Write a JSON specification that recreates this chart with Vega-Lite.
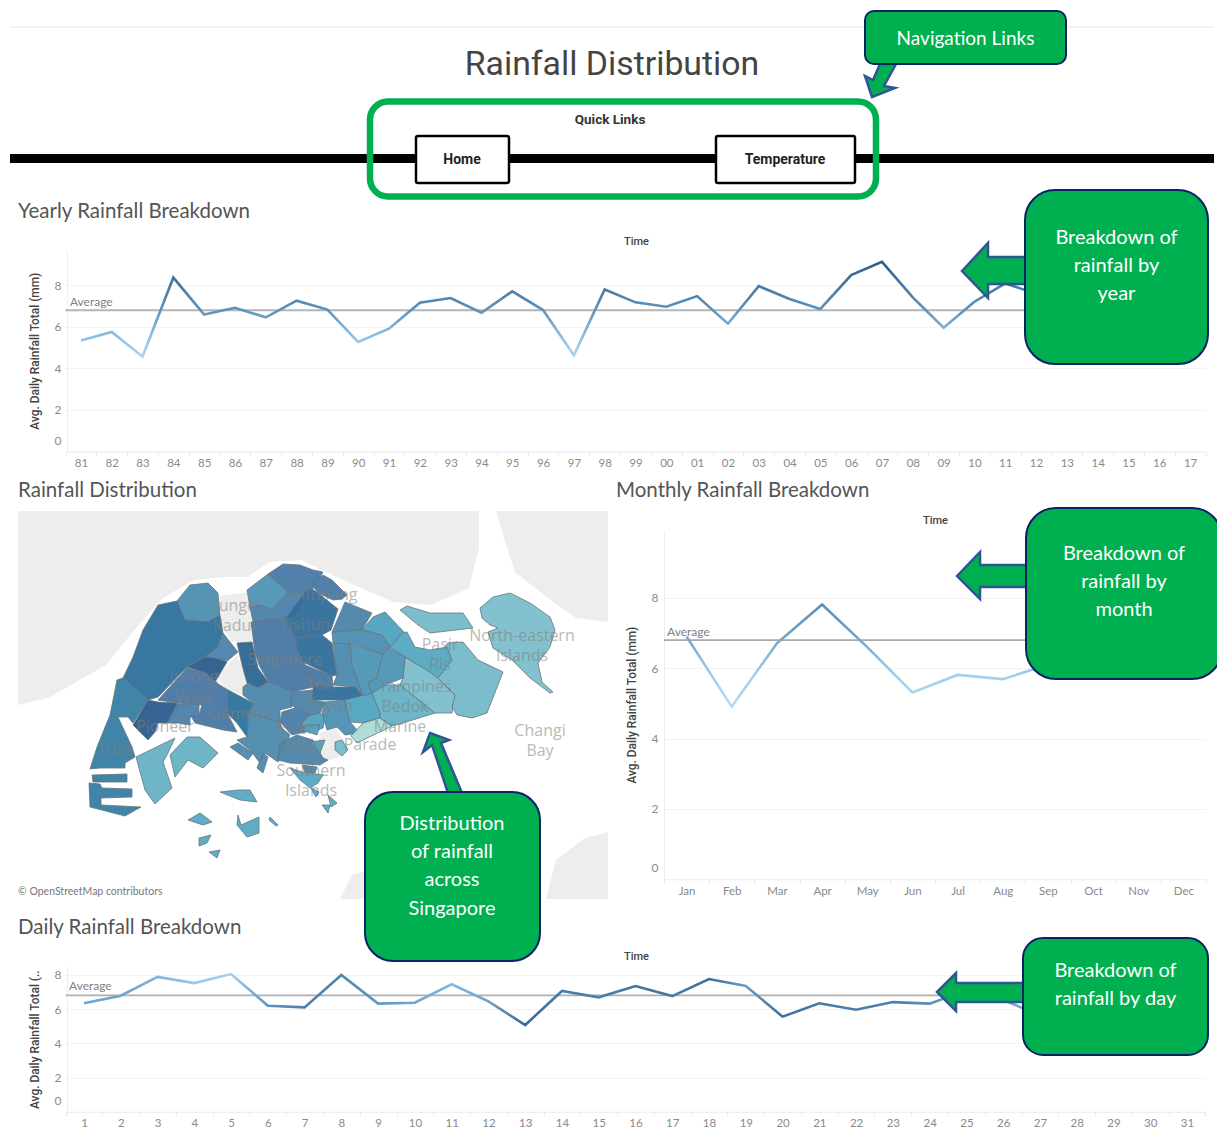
{"$schema":"https://vega.github.io/schema/vega-lite/v6.json","width":1217,"height":1131,"padding":0,"autosize":{"type":"none"},"background":"white","config":{"view":{"stroke":null}},"resolve":{"scale":{"x":"independent","y":"independent","color":"independent"},"axis":{"x":"independent","y":"independent"}},
"datasets":{
"yearly":[{"y":"81","v":5.34},{"y":"82","v":5.75},{"y":"83","v":4.57},{"y":"84","v":8.37},{"y":"85","v":6.59},{"y":"86","v":6.92},{"y":"87","v":6.46},{"y":"88","v":7.26},{"y":"89","v":6.83},{"y":"90","v":5.27},{"y":"91","v":5.91},{"y":"92","v":7.16},{"y":"93","v":7.39},{"y":"94","v":6.68},{"y":"95","v":7.71},{"y":"96","v":6.81},{"y":"97","v":4.63},{"y":"98","v":7.8},{"y":"99","v":7.18},{"y":"00","v":6.97},{"y":"01","v":7.48},{"y":"02","v":6.15},{"y":"03","v":7.96},{"y":"04","v":7.34},{"y":"05","v":6.86},{"y":"06","v":8.49},{"y":"07","v":9.13},{"y":"08","v":7.42},{"y":"09","v":5.96},{"y":"10","v":7.21},{"y":"11","v":8.09},{"y":"12","v":7.6},{"y":"13","v":7.9},{"y":"14","v":5.5},{"y":"15","v":5.0},{"y":"16","v":6.3},{"y":"17","v":6.9}],
"monthly":[{"m":"Jan","v":6.9},{"m":"Feb","v":4.91},{"m":"Mar","v":6.71},{"m":"Apr","v":7.81},{"m":"May","v":6.6},{"m":"Jun","v":5.31},{"m":"Jul","v":5.81},{"m":"Aug","v":5.69},{"m":"Sep","v":6.1},{"m":"Oct","v":6.6},{"m":"Nov","v":8.0},{"m":"Dec","v":8.6}],
"daily":[{"d":"1","v":6.34},{"d":"2","v":6.78},{"d":"3","v":7.88},{"d":"4","v":7.52},{"d":"5","v":8.05},{"d":"6","v":6.2},{"d":"7","v":6.1},{"d":"8","v":8.0},{"d":"9","v":6.32},{"d":"10","v":6.37},{"d":"11","v":7.45},{"d":"12","v":6.45},{"d":"13","v":5.07},{"d":"14","v":7.06},{"d":"15","v":6.69},{"d":"16","v":7.35},{"d":"17","v":6.76},{"d":"18","v":7.76},{"d":"19","v":7.35},{"d":"20","v":5.56},{"d":"21","v":6.34},{"d":"22","v":5.96},{"d":"23","v":6.41},{"d":"24","v":6.32},{"d":"25","v":7.1},{"d":"26","v":6.53},{"d":"27","v":5.65},{"d":"28","v":6.5},{"d":"29","v":7.0},{"d":"30","v":6.6},{"d":"31","v":7.3}],
"average":[{"label":"Average","avg":6.8}],
"land":[
{"type":"Feature","properties":{"n":"Johor"},"geometry":{"type":"Polygon","coordinates":[[[18,511],[479,511],[479,548],[469,588],[431,605],[393,602],[354,585],[301,560],[270,562],[247,577],[224,577],[194,580],[163,598],[136,628],[106,665],[48,698],[18,705],[18,511]]]}},
{"type":"Feature","properties":{"n":"Johor east"},"geometry":{"type":"Polygon","coordinates":[[[496,511],[608,511],[608,622],[576,618],[553,602],[515,572],[504,538],[496,511]]]}},
{"type":"Feature","properties":{"n":"Batam"},"geometry":{"type":"Polygon","coordinates":[[[546,899],[556,860],[585,838],[608,832],[608,899],[546,899]]]}},
{"type":"Feature","properties":{"n":"Bintan"},"geometry":{"type":"Polygon","coordinates":[[[340,899],[352,875],[380,866],[393,880],[385,899],[340,899]]]}},
{"type":"Feature","properties":{"n":"Kadut"},"geometry":{"type":"Polygon","coordinates":[[[220,596],[250,592],[252,642],[232,642],[222,625],[220,596]]]}},
{"type":"Feature","properties":{"n":"Nature reserve"},"geometry":{"type":"Polygon","coordinates":[[[217,677],[237,655],[248,683],[243,695],[227,690],[217,677]]]}},
{"type":"Feature","properties":{"n":"Downtown"},"geometry":{"type":"Polygon","coordinates":[[[320,733],[335,728],[347,745],[338,758],[322,762],[318,748],[320,733]]]}}
],
"regions":[
{"type":"Feature","properties":{"r":6.75},"geometry":{"type":"Polygon","coordinates":[[[177,601],[190,585],[208,583],[218,593],[220,615],[208,622],[185,620],[177,601]]]}},
{"type":"Feature","properties":{"r":7.45},"geometry":{"type":"Polygon","coordinates":[[[123,678],[133,657],[143,630],[158,605],[177,601],[185,620],[208,622],[220,615],[223,633],[217,648],[205,657],[187,667],[158,697],[148,700],[123,678]]]}},
{"type":"Feature","properties":{"r":6.97},"geometry":{"type":"Polygon","coordinates":[[[223,633],[238,652],[226,662],[205,657],[217,648],[223,633]]]}},
{"type":"Feature","properties":{"r":8.0},"geometry":{"type":"Polygon","coordinates":[[[187,667],[205,657],[215,658],[227,662],[215,682],[205,673],[187,667]]]}},
{"type":"Feature","properties":{"r":7.25},"geometry":{"type":"Polygon","coordinates":[[[117,680],[123,678],[148,700],[133,723],[128,717],[118,717],[110,715],[117,680]]]}},
{"type":"Feature","properties":{"r":7.25},"geometry":{"type":"Polygon","coordinates":[[[110,715],[118,717],[132,747],[135,757],[125,763],[125,768],[100,768],[90,769],[97,747],[110,715]]]}},
{"type":"Feature","properties":{"r":7.25},"geometry":{"type":"Polygon","coordinates":[[[92,775],[127,774],[127,782],[93,782],[92,775]]]}},
{"type":"Feature","properties":{"r":7.25},"geometry":{"type":"Polygon","coordinates":[[[89,783],[100,784],[102,788],[132,789],[132,797],[101,798],[101,805],[141,807],[125,816],[90,807],[89,783]]]}},
{"type":"Feature","properties":{"r":8.0},"geometry":{"type":"Polygon","coordinates":[[[148,700],[158,702],[177,703],[177,714],[167,723],[158,723],[155,732],[148,740],[133,725],[148,700]]]}},
{"type":"Feature","properties":{"r":7.15},"geometry":{"type":"Polygon","coordinates":[[[158,700],[187,668],[205,673],[215,682],[205,687],[202,705],[177,703],[158,700]]]}},
{"type":"Feature","properties":{"r":7.0},"geometry":{"type":"Polygon","coordinates":[[[177,704],[199,704],[199,715],[190,717],[190,725],[178,723],[167,723],[177,704]]]}},
{"type":"Feature","properties":{"r":7.15},"geometry":{"type":"Polygon","coordinates":[[[205,687],[215,682],[228,690],[227,713],[237,732],[223,730],[195,723],[191,716],[199,715],[202,705],[205,687]]]}},
{"type":"Feature","properties":{"r":7.35},"geometry":{"type":"Polygon","coordinates":[[[228,690],[253,703],[247,737],[237,723],[227,713],[228,690]]]}},
{"type":"Feature","properties":{"r":6.65},"geometry":{"type":"Polygon","coordinates":[[[247,590],[268,574],[288,592],[272,610],[260,605],[250,607],[247,590]]]}},
{"type":"Feature","properties":{"r":7.1},"geometry":{"type":"Polygon","coordinates":[[[268,574],[283,564],[300,565],[313,570],[323,572],[312,590],[293,593],[288,592],[268,574]]]}},
{"type":"Feature","properties":{"r":7.1},"geometry":{"type":"Polygon","coordinates":[[[310,583],[323,575],[332,580],[347,595],[342,599],[333,600],[318,593],[310,583]]]}},
{"type":"Feature","properties":{"r":7.0},"geometry":{"type":"Polygon","coordinates":[[[250,607],[260,605],[272,610],[288,592],[293,593],[312,590],[293,618],[283,618],[253,622],[250,607]]]}},
{"type":"Feature","properties":{"r":7.55},"geometry":{"type":"Polygon","coordinates":[[[285,619],[305,592],[312,589],[318,593],[338,609],[331,630],[322,635],[295,638],[285,619]]]}},
{"type":"Feature","properties":{"r":7.15},"geometry":{"type":"Polygon","coordinates":[[[251,622],[285,618],[295,638],[297,650],[305,657],[305,665],[313,687],[293,692],[269,683],[260,667],[255,653],[251,622]]]}},
{"type":"Feature","properties":{"r":7.55},"geometry":{"type":"Polygon","coordinates":[[[295,638],[322,635],[332,643],[337,675],[332,676],[305,663],[297,650],[295,638]]]}},
{"type":"Feature","properties":{"r":7.15},"geometry":{"type":"Polygon","coordinates":[[[305,665],[332,676],[333,687],[313,687],[305,665]]]}},
{"type":"Feature","properties":{"r":7.75},"geometry":{"type":"Polygon","coordinates":[[[237,643],[252,642],[258,668],[268,682],[258,688],[247,683],[242,665],[237,643]]]}},
{"type":"Feature","properties":{"r":6.9},"geometry":{"type":"Polygon","coordinates":[[[243,687],[248,683],[258,688],[268,682],[280,685],[293,693],[292,707],[280,710],[280,722],[248,713],[253,703],[243,695],[243,687]]]}},
{"type":"Feature","properties":{"r":6.85},"geometry":{"type":"Polygon","coordinates":[[[248,713],[280,722],[282,728],[290,735],[278,762],[265,753],[260,763],[250,750],[237,740],[247,737],[248,713]]]}},
{"type":"Feature","properties":{"r":6.85},"geometry":{"type":"Polygon","coordinates":[[[230,747],[238,743],[253,753],[248,760],[230,747]]]}},
{"type":"Feature","properties":{"r":6.85},"geometry":{"type":"Polygon","coordinates":[[[263,753],[268,757],[263,773],[257,768],[263,753]]]}},
{"type":"Feature","properties":{"r":6.95},"geometry":{"type":"Polygon","coordinates":[[[278,760],[280,743],[297,735],[313,740],[323,758],[328,760],[320,765],[290,763],[278,760]]]}},
{"type":"Feature","properties":{"r":7.05},"geometry":{"type":"Polygon","coordinates":[[[282,712],[295,708],[310,715],[302,723],[305,732],[292,735],[280,722],[282,712]]]}},
{"type":"Feature","properties":{"r":6.98},"geometry":{"type":"Polygon","coordinates":[[[293,692],[313,690],[313,700],[325,702],[320,713],[310,715],[295,708],[290,703],[293,692]]]}},
{"type":"Feature","properties":{"r":7.5},"geometry":{"type":"Polygon","coordinates":[[[313,687],[333,687],[355,687],[363,696],[345,700],[313,700],[313,687]]]}},
{"type":"Feature","properties":{"r":6.45},"geometry":{"type":"Polygon","coordinates":[[[302,723],[310,715],[320,713],[325,717],[323,728],[318,730],[305,732],[302,723]]]}},
{"type":"Feature","properties":{"r":6.7},"geometry":{"type":"Polygon","coordinates":[[[325,702],[345,700],[350,722],[360,733],[345,735],[337,727],[327,730],[322,713],[325,702]]]}},
{"type":"Feature","properties":{"r":6.35},"geometry":{"type":"Polygon","coordinates":[[[345,700],[372,693],[380,713],[380,718],[363,723],[350,722],[345,700]]]}},
{"type":"Feature","properties":{"r":5.0},"geometry":{"type":"Polygon","coordinates":[[[351,736],[363,723],[380,718],[392,726],[357,743],[351,736]]]}},
{"type":"Feature","properties":{"r":6.05},"geometry":{"type":"Polygon","coordinates":[[[372,693],[385,685],[400,685],[435,713],[403,723],[392,726],[380,718],[380,713],[372,693]]]}},
{"type":"Feature","properties":{"r":5.75},"geometry":{"type":"Polygon","coordinates":[[[405,657],[430,672],[455,695],[452,713],[435,713],[400,685],[403,678],[405,657]]]}},
{"type":"Feature","properties":{"r":5.85},"geometry":{"type":"Polygon","coordinates":[[[448,643],[463,642],[478,660],[503,672],[487,713],[472,718],[457,715],[452,707],[455,695],[438,678],[450,660],[445,647],[448,643]]]}},
{"type":"Feature","properties":{"r":6.3},"geometry":{"type":"Polygon","coordinates":[[[390,647],[400,633],[407,632],[415,647],[430,650],[447,647],[452,660],[438,678],[430,672],[405,657],[390,647]]]}},
{"type":"Feature","properties":{"r":6.95},"geometry":{"type":"Polygon","coordinates":[[[332,632],[345,602],[372,613],[362,630],[332,632]]]}},
{"type":"Feature","properties":{"r":6.4},"geometry":{"type":"Polygon","coordinates":[[[362,630],[373,617],[385,612],[404,632],[390,647],[382,635],[362,630]]]}},
{"type":"Feature","properties":{"r":6.75},"geometry":{"type":"Polygon","coordinates":[[[332,632],[362,630],[382,635],[390,647],[383,654],[353,644],[333,643],[332,632]]]}},
{"type":"Feature","properties":{"r":6.85},"geometry":{"type":"Polygon","coordinates":[[[333,643],[350,644],[352,665],[363,695],[355,687],[333,685],[337,675],[333,643]]]}},
{"type":"Feature","properties":{"r":6.65},"geometry":{"type":"Polygon","coordinates":[[[350,644],[383,654],[377,678],[368,683],[372,693],[363,696],[352,665],[350,644]]]}},
{"type":"Feature","properties":{"r":6.65},"geometry":{"type":"Polygon","coordinates":[[[383,653],[390,648],[405,657],[403,678],[385,685],[372,693],[368,683],[377,678],[383,653]]]}},
{"type":"Feature","properties":{"r":5.85},"geometry":{"type":"Polygon","coordinates":[[[335,742],[342,740],[348,750],[342,756],[335,750],[335,742]]]}},
{"type":"Feature","properties":{"r":6.45},"geometry":{"type":"Polygon","coordinates":[[[310,742],[325,740],[320,753],[310,742]]]}},
{"type":"Feature","properties":{"r":6.45},"geometry":{"type":"Polygon","coordinates":[[[305,725],[320,725],[317,735],[302,730],[305,725]]]}},
{"type":"Feature","properties":{"r":5.85},"geometry":{"type":"Polygon","coordinates":[[[400,610],[407,606],[430,613],[463,613],[473,628],[430,633],[418,625],[400,610]]]}},
{"type":"Feature","properties":{"r":5.75},"geometry":{"type":"Polygon","coordinates":[[[480,608],[493,597],[510,593],[530,603],[550,617],[555,630],[550,647],[538,663],[542,682],[553,692],[550,693],[530,678],[512,660],[493,648],[488,632],[498,628],[490,625],[482,618],[480,608]]]}},
{"type":"Feature","properties":{"r":6.05},"geometry":{"type":"Polygon","coordinates":[[[136,757],[175,738],[168,753],[163,762],[172,788],[155,804],[145,790],[136,757]]]}},
{"type":"Feature","properties":{"r":6.05},"geometry":{"type":"Polygon","coordinates":[[[170,755],[187,737],[200,737],[218,753],[203,768],[188,760],[175,777],[170,755]]]}},
{"type":"Feature","properties":{"r":6.3},"geometry":{"type":"Polygon","coordinates":[[[290,768],[302,772],[323,775],[318,783],[310,788],[300,780],[290,768]]]}},
{"type":"Feature","properties":{"r":6.95},"geometry":{"type":"Polygon","coordinates":[[[302,765],[317,767],[315,773],[305,772],[302,765]]]}},
{"type":"Feature","properties":{"r":6.25},"geometry":{"type":"Polygon","coordinates":[[[220,792],[238,790],[250,790],[257,802],[240,800],[220,792]]]}},
{"type":"Feature","properties":{"r":6.25},"geometry":{"type":"Polygon","coordinates":[[[188,820],[200,813],[212,822],[203,825],[188,820]]]}},
{"type":"Feature","properties":{"r":6.25},"geometry":{"type":"Polygon","coordinates":[[[238,815],[241,825],[259,817],[259,833],[247,837],[237,825],[238,815]]]}},
{"type":"Feature","properties":{"r":6.25},"geometry":{"type":"Polygon","coordinates":[[[270,817],[278,825],[276,826],[269,820],[270,817]]]}},
{"type":"Feature","properties":{"r":6.25},"geometry":{"type":"Polygon","coordinates":[[[199,838],[211,835],[207,843],[199,846],[199,838]]]}},
{"type":"Feature","properties":{"r":6.25},"geometry":{"type":"Polygon","coordinates":[[[209,852],[220,850],[217,858],[209,852]]]}},
{"type":"Feature","properties":{"r":6.25},"geometry":{"type":"Polygon","coordinates":[[[322,805],[330,805],[328,813],[322,805]]]}},
{"type":"Feature","properties":{"r":6.25},"geometry":{"type":"Polygon","coordinates":[[[328,795],[337,803],[331,807],[328,795]]]}},
{"type":"Feature","properties":{"r":6.25},"geometry":{"type":"Polygon","coordinates":[[[311,788],[319,792],[316,797],[311,788]]]}}
],
"places":[{"t":"Sungei","x":235,"y":606},{"t":"Kadut","x":235,"y":626},{"t":"Simpang","x":325,"y":595},{"t":"Yishun","x":305,"y":625},{"t":"Jurong","x":194,"y":677},{"t":"West","x":194,"y":698},{"t":"Singapore","x":285,"y":660},{"t":"Pioneer","x":165,"y":727},{"t":"Clementi","x":240,"y":714},{"t":"River","x":295,"y":729},{"t":"Valley","x":300,"y":746},{"t":"Payoh","x":330,"y":707},{"t":"Toa","x":320,"y":685},{"t":"Marine","x":400,"y":727},{"t":"Parade","x":370,"y":745},{"t":"Bedok","x":405,"y":707},{"t":"Tampines","x":415,"y":687},{"t":"Pasir","x":440,"y":645},{"t":"Ris","x":440,"y":665},{"t":"North-eastern","x":522,"y":636},{"t":"Islands","x":522,"y":656},{"t":"Changi","x":540,"y":731},{"t":"Bay","x":540,"y":751},{"t":"Southern","x":311,"y":771},{"t":"Islands","x":311,"y":791},{"t":"Tuas","x":115,"y":750}],
"arrows":[
{"type":"Feature","properties":{"n":"nav"},"geometry":{"type":"Polygon","coordinates":[[[880,64],[896,64],[884,86],[895,88],[872,97],[865,76],[873,80],[880,64]]]}},
{"type":"Feature","properties":{"n":"year"},"geometry":{"type":"Polygon","coordinates":[[[962,271],[988,243],[988,257],[1026,257],[1026,284],[988,284],[988,298],[962,271]]]}},
{"type":"Feature","properties":{"n":"month"},"geometry":{"type":"Polygon","coordinates":[[[957,576],[980,552],[980,565],[1027,565],[1027,587],[980,587],[980,599],[957,576]]]}},
{"type":"Feature","properties":{"n":"day"},"geometry":{"type":"Polygon","coordinates":[[[937,992],[956,973],[956,983],[1024,983],[1024,1002],[956,1002],[956,1011],[937,992]]]}},
{"type":"Feature","properties":{"n":"map"},"geometry":{"type":"Polygon","coordinates":[[[430,733],[449,740],[441,743],[462,793],[448,793],[432,745],[423,752],[430,733]]]}}
]
},
"layer":[
{"data":{"values":[{"item":"top line"}]},"mark":{"type":"rule","color":"#e6e6e6","strokeWidth":1},"encoding":{"x":{"datum":"start","scale":{"type":"point","domain":["start","end"],"range":[10,1214],"padding":0},"axis":null},"x2":{"datum":"end"},"y":{"field":"item","type":"nominal","scale":{"type":"point","range":[27,27]},"axis":null}}},
{"data":{"values":[{"item":"header bar"}]},"mark":{"type":"rule","color":"black","strokeWidth":9},"encoding":{"x":{"datum":"start","scale":{"type":"point","domain":["start","end"],"range":[10,1214],"padding":0},"axis":null},"x2":{"datum":"end"},"y":{"field":"item","type":"nominal","scale":{"type":"point","range":[158.5,158.5]},"axis":null}}},
{"data":{"values":[{"item":"Rainfall Distribution"}]},"mark":{"type":"text","font":"Roboto","fontSize":33.8,"color":"#444444","align":"center","baseline":"middle"},"encoding":{"text":{"field":"item"},"x":{"field":"item","type":"nominal","scale":{"type":"point","range":[612,612]},"axis":null},"y":{"field":"item","type":"nominal","scale":{"type":"point","range":[64.5,64.5]},"axis":null}}},
{"data":{"values":[{"item":"links frame"}]},"mark":{"type":"rect","width":506,"height":95,"cornerRadius":18,"fill":null,"fillOpacity":0,"stroke":"#00b050","strokeWidth":6.5},"encoding":{"x":{"field":"item","type":"nominal","scale":{"type":"point","range":[623,623]},"axis":null},"y":{"field":"item","type":"nominal","scale":{"type":"point","range":[149,149]},"axis":null}}},
{"data":{"values":[{"item":"Quick Links"}]},"mark":{"type":"text","font":"Roboto","fontWeight":"bold","fontSize":13.5,"color":"#333333","align":"center","baseline":"middle"},"encoding":{"text":{"field":"item"},"x":{"field":"item","type":"nominal","scale":{"type":"point","range":[610,610]},"axis":null},"y":{"field":"item","type":"nominal","scale":{"type":"point","range":[120,120]},"axis":null}}},
{"data":{"values":[{"item":"Home box"}]},"mark":{"type":"rect","width":93,"height":47,"cornerRadius":2,"fill":"white","stroke":"black","strokeWidth":2.5},"encoding":{"x":{"field":"item","type":"nominal","scale":{"type":"point","range":[462.5,462.5]},"axis":null},"y":{"field":"item","type":"nominal","scale":{"type":"point","range":[159.5,159.5]},"axis":null}}},
{"data":{"values":[{"item":"Temperature box"}]},"mark":{"type":"rect","width":139,"height":47,"cornerRadius":2,"fill":"white","stroke":"black","strokeWidth":2.5},"encoding":{"x":{"field":"item","type":"nominal","scale":{"type":"point","range":[785.5,785.5]},"axis":null},"y":{"field":"item","type":"nominal","scale":{"type":"point","range":[159.5,159.5]},"axis":null}}},
{"data":{"values":[{"item":"Home"}]},"mark":{"type":"text","font":"Roboto","fontWeight":"bold","fontSize":14,"color":"#222222","align":"center","baseline":"middle"},"encoding":{"text":{"field":"item"},"x":{"field":"item","type":"nominal","scale":{"type":"point","range":[462,462]},"axis":null},"y":{"field":"item","type":"nominal","scale":{"type":"point","range":[159.5,159.5]},"axis":null}}},
{"data":{"values":[{"item":"Temperature"}]},"mark":{"type":"text","font":"Roboto","fontWeight":"bold","fontSize":14,"color":"#222222","align":"center","baseline":"middle"},"encoding":{"text":{"field":"item"},"x":{"field":"item","type":"nominal","scale":{"type":"point","range":[785,785]},"axis":null},"y":{"field":"item","type":"nominal","scale":{"type":"point","range":[159.5,159.5]},"axis":null}}},
{"data":{"values":[{"item":"Yearly Rainfall Breakdown"}]},"mark":{"type":"text","font":"Lato","fontSize":20.5,"color":"#555555","align":"left","baseline":"middle"},"encoding":{"text":{"field":"item"},"x":{"field":"item","type":"nominal","scale":{"type":"point","range":[18,18]},"axis":null},"y":{"field":"item","type":"nominal","scale":{"type":"point","range":[212,212]},"axis":null}}},
{"data":{"values":[{"item":"Rainfall Distribution"}]},"mark":{"type":"text","font":"Lato","fontSize":20.5,"color":"#555555","align":"left","baseline":"middle"},"encoding":{"text":{"field":"item"},"x":{"field":"item","type":"nominal","scale":{"type":"point","range":[18,18]},"axis":null},"y":{"field":"item","type":"nominal","scale":{"type":"point","range":[491,491]},"axis":null}}},
{"data":{"values":[{"item":"Monthly Rainfall Breakdown"}]},"mark":{"type":"text","font":"Lato","fontSize":20.5,"color":"#555555","align":"left","baseline":"middle"},"encoding":{"text":{"field":"item"},"x":{"field":"item","type":"nominal","scale":{"type":"point","range":[616,616]},"axis":null},"y":{"field":"item","type":"nominal","scale":{"type":"point","range":[491,491]},"axis":null}}},
{"data":{"values":[{"item":"Daily Rainfall Breakdown"}]},"mark":{"type":"text","font":"Lato","fontSize":20.5,"color":"#555555","align":"left","baseline":"middle"},"encoding":{"text":{"field":"item"},"x":{"field":"item","type":"nominal","scale":{"type":"point","range":[18,18]},"axis":null},"y":{"field":"item","type":"nominal","scale":{"type":"point","range":[928,928]},"axis":null}}},
{"layer":[
{"mark":{"type":"rule","color":"#b5b5b5","strokeWidth":2,"xOffset":-15.4,"x2Offset":15.4},"data":{"name":"average"},"encoding":{"x":{"datum":"81","type":"ordinal","scale":{"type":"band","domain":["81","82","83","84","85","86","87","88","89","90","91","92","93","94","95","96","97","98","99","00","01","02","03","04","05","06","07","08","09","10","11","12","13","14","15","16","17"],"range":[65.5,1205.5],"paddingInner":0,"paddingOuter":0},"axis":{"title":"Time","titleX":636,"titleY":-210,"orient":"bottom","offset":-679.5,"labelAngle":0,"labelFont":"Lato","labelFontSize":11.5,"labelColor":"#8a8a8a","tickBand":"extent","tickColor":"#e8e8e8","tickSize":4,"domainColor":"#eeeeee","labelPadding":2,"grid":false,"titleFont":"Roboto","titleFontSize":11,"titleFontWeight":500,"titleColor":"#444444","titleBaseline":"middle"}},"x2":{"datum":"17"},"y":{"field":"avg","type":"quantitative","scale":{"domain":[0,9.7],"range":[451.5,250],"nice":false},"axis":{"title":"Avg. Daily Rainfall Total (mm)","orient":"left","offset":-67,"values":[0,2,4,6,8],"format":"d","grid":true,"gridColor":"#f3f3f3","domainColor":"#eeeeee","ticks":false,"labelFlush":true,"labelFlushOffset":-4.5,"labelPadding":6,"labelFont":"Lato","labelFontSize":12,"labelColor":"#8a8a8a","titleFont":"Roboto","titleFontSize":11.9,"titleFontWeight":500,"titleColor":"#444444","titlePadding":14}}}},
{"mark":{"type":"line","strokeWidth":2.6,"stroke":{"gradient":"linear","x1":0,"y1":0,"x2":0,"y2":1,"stops":[{"offset":0,"color":"#2d5c87"},{"offset":0.16,"color":"#3c6f9e"},{"offset":0.36,"color":"#4f83ad"},{"offset":0.51,"color":"#5c93bd"},{"offset":0.69,"color":"#7bb1d6"},{"offset":0.84,"color":"#94c6e6"},{"offset":1,"color":"#acd6f0"}]}},"data":{"name":"yearly"},"encoding":{"x":{"field":"y","type":"ordinal"},"y":{"field":"v","type":"quantitative"}}},
{"mark":{"type":"text","font":"Lato","fontSize":12,"color":"#808080","align":"left","baseline":"middle","dx":-11,"dy":-8.5},"data":{"name":"average"},"encoding":{"text":{"field":"label"},"x":{"datum":"81","type":"ordinal"},"y":{"field":"avg","type":"quantitative"}}}
]},
{"data":{"name":"land"},"mark":{"type":"geoshape","fill":"#ecedec","stroke":null},"projection":{"type":"identity","scale":1,"translate":[0,0]}},
{"data":{"name":"regions"},"mark":{"type":"geoshape","stroke":"#64757f","strokeWidth":0.8,"fillOpacity":0.97},"projection":{"type":"identity","scale":1,"translate":[0,0]},"encoding":{"color":{"field":"properties.r","type":"quantitative","legend":null,"scale":{"domain":[5,5.75,6.35,6.95,7.15,7.25,7.35,7.55,8],"range":["#acdcd4","#7fbfcc","#55a6c1","#4f86ab","#4a7aa5","#3a80a5","#2f769f","#356f9b","#2f5f8e"]}}}},
{"data":{"name":"places"},"mark":{"type":"text","font":"Open Sans","fontSize":16,"color":"#808080","opacity":0.55,"align":"center","baseline":"middle"},"projection":{"type":"identity","scale":1,"translate":[0,0]},"encoding":{"longitude":{"field":"x","type":"quantitative"},"latitude":{"field":"y","type":"quantitative"},"text":{"field":"t"}}},
{"data":{"values":[{"item":"© OpenStreetMap contributors"}]},"mark":{"type":"text","font":"Lato","fontSize":10.5,"color":"#777777","align":"left","baseline":"middle"},"encoding":{"text":{"field":"item"},"x":{"field":"item","type":"nominal","scale":{"type":"point","range":[18,18]},"axis":null},"y":{"field":"item","type":"nominal","scale":{"type":"point","range":[892,892]},"axis":null}}},
{"layer":[
{"mark":{"type":"rule","color":"#a8a8a8","strokeWidth":1.6,"xOffset":-22.6,"x2Offset":22.6},"data":{"name":"average"},"encoding":{"x":{"datum":"Jan","type":"ordinal","scale":{"type":"band","domain":["Jan","Feb","Mar","Apr","May","Jun","Jul","Aug","Sep","Oct","Nov","Dec"],"range":[664,1206],"paddingInner":0,"paddingOuter":0},"axis":{"title":"Time","titleX":935,"titleY":-359,"orient":"bottom","offset":-251.7,"labelAngle":0,"labelFont":"Lato","labelFontSize":11.5,"labelColor":"#8a8a8a","tickBand":"extent","tickColor":"#e8e8e8","tickSize":4,"domainColor":"#eeeeee","labelPadding":2,"grid":false,"titleFont":"Roboto","titleFontSize":11,"titleFontWeight":500,"titleColor":"#444444","titleBaseline":"middle"}},"x2":{"datum":"Dec"},"y":{"field":"avg","type":"quantitative","scale":{"domain":[0,9.93],"range":[879.3,530],"nice":false},"axis":{"title":"Avg. Daily Rainfall Total (mm)","orient":"left","offset":-664,"values":[0,2,4,6,8],"format":"d","grid":true,"gridColor":"#f3f3f3","domainColor":"#eeeeee","ticks":false,"labelFlush":true,"labelFlushOffset":-4.5,"labelPadding":6,"labelFont":"Lato","labelFontSize":12,"labelColor":"#8a8a8a","titleFont":"Roboto","titleFontSize":11.9,"titleFontWeight":500,"titleColor":"#444444","titlePadding":14}}}},
{"mark":{"type":"line","strokeWidth":2.6,"stroke":{"gradient":"linear","x1":0,"y1":0,"x2":0,"y2":1,"stops":[{"offset":0,"color":"#3f72a0"},{"offset":0.22,"color":"#5a8fb8"},{"offset":0.46,"color":"#6fa3ca"},{"offset":0.76,"color":"#a2cfe9"},{"offset":1,"color":"#b5dcf2"}]}},"data":{"name":"monthly"},"encoding":{"x":{"field":"m","type":"ordinal"},"y":{"field":"v","type":"quantitative"}}},
{"mark":{"type":"text","font":"Lato","fontSize":12,"color":"#808080","align":"left","baseline":"middle","dx":-19.5,"dy":-8},"data":{"name":"average"},"encoding":{"text":{"field":"label"},"x":{"datum":"Jan","type":"ordinal"},"y":{"field":"avg","type":"quantitative"}}}
]},
{"layer":[
{"mark":{"type":"rule","color":"#b0b0b0","strokeWidth":1.8,"xOffset":-18.4,"x2Offset":18.4},"data":{"name":"average"},"encoding":{"x":{"datum":"1","type":"ordinal","scale":{"type":"band","domain":["1","2","3","4","5","6","7","8","9","10","11","12","13","14","15","16","17","18","19","20","21","22","23","24","25","26","27","28","29","30","31"],"range":[65.6,1205.4],"paddingInner":0,"paddingOuter":0},"axis":{"title":"Time","titleX":636,"titleY":-154.7,"orient":"bottom","offset":-19.3,"labelAngle":0,"labelFont":"Lato","labelFontSize":11.5,"labelColor":"#8a8a8a","tickBand":"extent","tickColor":"#e8e8e8","tickSize":4,"domainColor":"#eeeeee","labelPadding":2,"grid":false,"titleFont":"Roboto","titleFontSize":11,"titleFontWeight":500,"titleColor":"#444444","titleBaseline":"middle"}},"x2":{"datum":"31"},"y":{"field":"avg","type":"quantitative","scale":{"domain":[0,8.48],"range":[1111.7,966.7],"nice":false},"axis":{"title":"Avg. Daily Rainfall Total (..","orient":"left","offset":-67,"values":[0,2,4,6,8],"format":"d","grid":true,"gridColor":"#f3f3f3","domainColor":"#eeeeee","ticks":false,"labelFlush":true,"labelFlushOffset":-4.5,"labelPadding":6,"labelFont":"Lato","labelFontSize":12,"labelColor":"#8a8a8a","titleFont":"Roboto","titleFontSize":11.9,"titleFontWeight":500,"titleColor":"#444444","titlePadding":14}}}},
{"mark":{"type":"line","strokeWidth":2.6,"stroke":{"gradient":"linear","x1":0,"y1":0,"x2":1,"y2":0,"stops":[{"offset":0,"color":"#6fa8d0"},{"offset":0.033,"color":"#6aa3cc"},{"offset":0.067,"color":"#7fb6da"},{"offset":0.1,"color":"#9ac8e6"},{"offset":0.133,"color":"#a6d0ee"},{"offset":0.167,"color":"#5d92bd"},{"offset":0.2,"color":"#4f80ab"},{"offset":0.233,"color":"#4f86b0"},{"offset":0.267,"color":"#6399c2"},{"offset":0.3,"color":"#6ea5cd"},{"offset":0.333,"color":"#85badf"},{"offset":0.367,"color":"#6fa1c8"},{"offset":0.4,"color":"#3b6893"},{"offset":0.433,"color":"#4a7ca6"},{"offset":0.467,"color":"#4f82ac"},{"offset":0.5,"color":"#42729c"},{"offset":0.533,"color":"#4a7ba5"},{"offset":0.567,"color":"#3f6f9a"},{"offset":0.6,"color":"#6a9cc4"},{"offset":0.633,"color":"#40709b"},{"offset":0.667,"color":"#467aa4"},{"offset":0.7,"color":"#4b7da7"},{"offset":0.733,"color":"#4d7fa8"},{"offset":0.767,"color":"#5b90b9"},{"offset":0.8,"color":"#6ca3cb"},{"offset":0.833,"color":"#6b9fc8"},{"offset":0.867,"color":"#7fb3d8"},{"offset":1,"color":"#6fa8d0"}]}},"data":{"name":"daily"},"encoding":{"x":{"field":"d","type":"ordinal"},"y":{"field":"v","type":"quantitative"}}},
{"mark":{"type":"text","font":"Lato","fontSize":12,"color":"#808080","align":"left","baseline":"middle","dx":-15,"dy":-9},"data":{"name":"average"},"encoding":{"text":{"field":"label"},"x":{"datum":"1","type":"ordinal"},"y":{"field":"avg","type":"quantitative"}}}
]},
{"data":{"name":"arrows"},"mark":{"type":"geoshape","fill":"#00b050","stroke":"#2f5597","strokeWidth":2.5},"projection":{"type":"identity","scale":1,"translate":[0,0]}},
{"data":{"values":[{"item":"Navigation box"}]},"mark":{"type":"rect","width":201,"height":53,"cornerRadius":9,"fill":"#00b050","stroke":"#0b2265","strokeWidth":2},"encoding":{"x":{"field":"item","type":"nominal","scale":{"type":"point","range":[965.5,965.5]},"axis":null},"y":{"field":"item","type":"nominal","scale":{"type":"point","range":[37.5,37.5]},"axis":null}}},
{"data":{"values":[{"item":"Navigation Links"}]},"mark":{"type":"text","font":"Lato","fontSize":19,"color":"white","align":"center","baseline":"middle"},"encoding":{"text":{"field":"item"},"x":{"field":"item","type":"nominal","scale":{"type":"point","range":[965.5,965.5]},"axis":null},"y":{"field":"item","type":"nominal","scale":{"type":"point","range":[39,39]},"axis":null}}},
{"data":{"values":[{"item":"year box"}]},"mark":{"type":"rect","width":183,"height":174,"cornerRadius":30,"fill":"#00b050","stroke":"#0b2265","strokeWidth":2},"encoding":{"x":{"field":"item","type":"nominal","scale":{"type":"point","range":[1116.5,1116.5]},"axis":null},"y":{"field":"item","type":"nominal","scale":{"type":"point","range":[277,277]},"axis":null}}},
{"data":{"values":[{"item":"Breakdown of\nrainfall by\nyear"}]},"mark":{"type":"text","font":"Lato","fontSize":20,"lineBreak":"\n","lineHeight":28.2,"color":"white","align":"center","baseline":"middle"},"encoding":{"text":{"field":"item"},"x":{"field":"item","type":"nominal","scale":{"type":"point","range":[1116.5,1116.5]},"axis":null},"y":{"field":"item","type":"nominal","scale":{"type":"point","range":[238,238]},"axis":null}}},
{"data":{"values":[{"item":"month box"}]},"mark":{"type":"rect","width":196,"height":171,"cornerRadius":30,"fill":"#00b050","stroke":"#0b2265","strokeWidth":2},"encoding":{"x":{"field":"item","type":"nominal","scale":{"type":"point","range":[1124,1124]},"axis":null},"y":{"field":"item","type":"nominal","scale":{"type":"point","range":[593.5,593.5]},"axis":null}}},
{"data":{"values":[{"item":"Breakdown of\nrainfall by\nmonth"}]},"mark":{"type":"text","font":"Lato","fontSize":20,"lineBreak":"\n","lineHeight":28.2,"color":"white","align":"center","baseline":"middle"},"encoding":{"text":{"field":"item"},"x":{"field":"item","type":"nominal","scale":{"type":"point","range":[1124,1124]},"axis":null},"y":{"field":"item","type":"nominal","scale":{"type":"point","range":[554,554]},"axis":null}}},
{"data":{"values":[{"item":"map box"}]},"mark":{"type":"rect","width":175,"height":169,"cornerRadius":28,"fill":"#00b050","stroke":"#0b2265","strokeWidth":2},"encoding":{"x":{"field":"item","type":"nominal","scale":{"type":"point","range":[452.5,452.5]},"axis":null},"y":{"field":"item","type":"nominal","scale":{"type":"point","range":[876.5,876.5]},"axis":null}}},
{"data":{"values":[{"item":"Distribution\nof rainfall\nacross\nSingapore"}]},"mark":{"type":"text","font":"Lato","fontSize":20,"lineBreak":"\n","lineHeight":28.2,"color":"white","align":"center","baseline":"middle"},"encoding":{"text":{"field":"item"},"x":{"field":"item","type":"nominal","scale":{"type":"point","range":[452,452]},"axis":null},"y":{"field":"item","type":"nominal","scale":{"type":"point","range":[824,824]},"axis":null}}},
{"data":{"values":[{"item":"day box"}]},"mark":{"type":"rect","width":185,"height":117,"cornerRadius":20,"fill":"#00b050","stroke":"#0b2265","strokeWidth":2},"encoding":{"x":{"field":"item","type":"nominal","scale":{"type":"point","range":[1115.5,1115.5]},"axis":null},"y":{"field":"item","type":"nominal","scale":{"type":"point","range":[996.5,996.5]},"axis":null}}},
{"data":{"values":[{"item":"Breakdown of\nrainfall by day"}]},"mark":{"type":"text","font":"Lato","fontSize":20,"lineBreak":"\n","lineHeight":28.2,"color":"white","align":"center","baseline":"middle"},"encoding":{"text":{"field":"item"},"x":{"field":"item","type":"nominal","scale":{"type":"point","range":[1115.5,1115.5]},"axis":null},"y":{"field":"item","type":"nominal","scale":{"type":"point","range":[971,971]},"axis":null}}}
]}
